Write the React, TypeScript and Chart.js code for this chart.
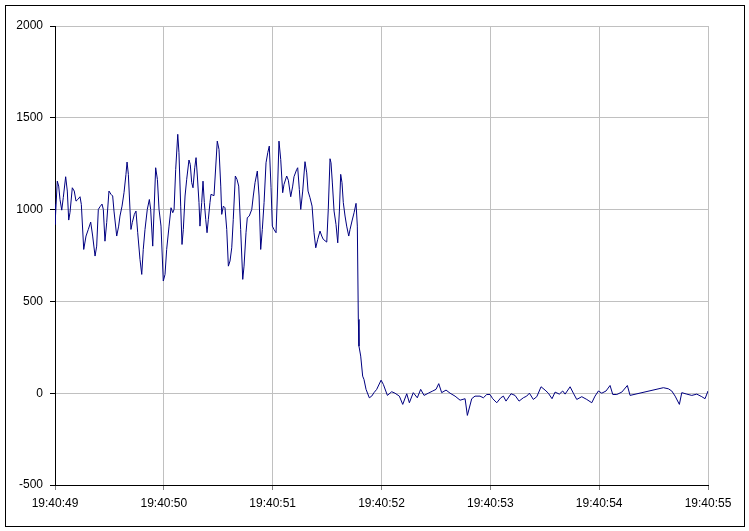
import React, { useEffect, useRef } from "react";
import { Chart, registerables } from "chart.js";

Chart.register(...registerables);

// milliseconds after 19:40:49
const timesMs: number[] = [
  0, 3, 6, 21, 34, 46, 62, 76, 98, 113, 126, 138, 159, 177, 193, 209, 230, 242, 264, 285,
  306, 328, 346, 368, 383, 398, 414, 432, 444, 459, 475, 496, 515, 530, 542, 567, 585, 597, 616, 634,
  652, 662, 674, 689, 698, 710, 729, 744, 760, 781, 797, 811, 827, 848, 867, 879, 898, 925, 941, 956,
  974, 995, 1011, 1026, 1048, 1066, 1082, 1094, 1109, 1128, 1139, 1155, 1167, 1179, 1195, 1210, 1231, 1243, 1256, 1268,
  1284, 1296, 1308, 1323, 1332, 1348, 1360, 1372, 1385, 1397, 1409, 1424, 1433, 1461, 1491, 1507, 1523, 1532, 1547, 1562,
  1578, 1593, 1608, 1624, 1638, 1657, 1672, 1688, 1706, 1725, 1737, 1755, 1767, 1785, 1808, 1822, 1838, 1859, 1875, 1890,
  1905, 1921, 1939, 1955, 1969, 1985, 1997, 2012, 2031, 2043, 2058, 2074, 2092, 2104, 2129, 2144, 2166, 2184, 2196, 2221,
  2230, 2245, 2258, 2276, 2297, 2313, 2325, 2343, 2362, 2380, 2396, 2414, 2435, 2451, 2465, 2497, 2511, 2527, 2536, 2548,
  2564, 2582, 2598, 2613, 2625, 2637, 2649, 2665, 2680, 2699, 2711, 2729, 2748, 2766, 2778, 2787, 2793, 2809, 2827, 2839,
  2858, 2888, 2910, 2931, 2956, 2996, 3017, 3054, 3094, 3124, 3164, 3195, 3232, 3256, 3292, 3329, 3360, 3391, 3430, 3471,
  3501, 3526, 3553, 3593, 3630, 3676, 3722, 3768, 3789, 3829, 3859, 3905, 3936, 3967, 3997, 4022, 4059, 4096, 4120, 4144,
  4190, 4227, 4264, 4303, 4334, 4359, 4395, 4427, 4466, 4503, 4533, 4567, 4595, 4634, 4665, 4687, 4733, 4763, 4794, 4840,
  4886, 4932, 4962, 4993, 5024, 5063, 5100, 5125, 5162, 5208, 5259, 5284, 5590, 5636, 5667, 5698, 5737, 5759, 5805, 5851,
  5897, 5943, 5973, 6000,
];

const values: number[] = [
  919, 1028, 965, 1155, 1128, 1055, 997, 1065, 1179, 1101, 943, 985, 1119, 1101, 1046, 1055, 1070, 1028, 783, 856,
  892, 932, 856, 747, 801, 1001, 1016, 1030, 1001, 828, 929, 1101, 1083, 1074, 992, 856, 910, 965, 1019, 1092,
  1192, 1259, 1192, 1001, 892, 929, 974, 992, 874, 729, 647, 783, 892, 1001, 1055, 1001, 801, 1228, 1164, 1001,
  910, 611, 647, 783, 910, 1010, 983, 1001, 1219, 1410, 1310, 1019, 810, 892, 1074, 1165, 1270, 1246, 1147, 1119,
  1228, 1283, 1183, 1038, 910, 1038, 1155, 1038, 947, 874, 947, 1038, 1083, 1076, 1373, 1328, 1128, 974, 1019, 1010,
  892, 692, 720, 792, 947, 1183, 1165, 1128, 892, 620, 692, 874, 956, 965, 1001, 1074, 1147, 1210, 1074, 783,
  892, 1038, 1255, 1310, 1346, 1119, 910, 892, 874, 1074, 1373, 1273, 1092, 1137, 1183, 1160, 1070, 1128, 1179, 1219,
  1228, 1110, 1001, 1101, 1261, 1200, 1101, 1065, 1019, 874, 792, 838, 883, 856, 838, 823, 1001, 1277, 1255, 1150,
  992, 919, 819, 992, 1192, 1147, 1038, 965, 910, 856, 892, 938, 983, 1034, 910, 402, 256, 202, 93, 75,
  21, -25, -16, 3, 21, 71, 48, -12, 8, 0, -16, -61, -3, -52, 3, -25, 21, -12, 0, 12,
  21, 52, 3, 17, 0, -16, -38, -30, -121, -30, -16, -16, -25, -7, -7, -30, -52, -25, -16, -43,
  -3, -12, -43, -25, -16, 0, -34, -19, 35, 17, 0, -30, 6, -5, 12, -5, 35, 0, -34, -19,
  -34, -52, -16, 12, 0, 12, 42, -7, -7, 6, 42, -12, 30, 24, 12, -16, -61, 3, -5, -12,
  -5, -19, -30, 12,
];

const xTickLabels: string[] = [
  "19:40:49", "19:40:50", "19:40:51", "19:40:52", "19:40:53", "19:40:54", "19:40:55",
];

const yMin = -500;
const yMax = 2000;
const yStep = 500;

const FONT = "Arial, 'Liberation Sans', sans-serif";

export default function App() {
  const ref = useRef<HTMLCanvasElement | null>(null);

  useEffect(() => {
    if (!ref.current) return;
    const borderPlugin = {
      id: "outerBorder",
      afterDraw(chart: any) {
        const ctx = chart.ctx;
        ctx.save();
        ctx.strokeStyle = "#000";
        ctx.lineWidth = 1;
        ctx.strokeRect(5.5, 5.5, 739, 521);
        ctx.restore();
      },
      beforeDraw(chart: any) {
        const ctx = chart.ctx;
        ctx.save();
        ctx.fillStyle = "#fff";
        ctx.fillRect(0, 0, chart.width, chart.height);
        ctx.restore();
      },
    };
    const chart = new Chart(ref.current, {
      type: "line",
      data: {
        datasets: [
          {
            data: timesMs.map((t, i) => ({ x: t, y: values[i] })),
            borderColor: "#000080",
            borderWidth: 1,
            pointRadius: 0,
            tension: 0,
            fill: false,
          },
        ],
      },
      options: {
        responsive: false,
        animation: false,
        layout: { padding: { left: 0, top: 26, right: 41, bottom: 0 } },
        plugins: { legend: { display: false }, tooltip: { enabled: false } },
        scales: {
          x: {
            type: "linear",
            min: 0,
            max: (xTickLabels.length - 1) * 1000,
            afterFit: (s: any) => {
              s.height = 46;
            },
            afterBuildTicks: (s: any) => {
              s.ticks = xTickLabels.map((_, i) => ({ value: i * 1000 }));
            },
            ticks: {
              autoSkip: false,
              maxRotation: 0,
              padding: 6,
              color: "#000",
              font: { family: FONT, size: 12 },
              callback: (_v: any, i: number) => xTickLabels[i],
            },
            grid: { color: "#c0c0c0", tickColor: "#808080", tickLength: 5, lineWidth: 1 },
            border: { color: "#000", width: 1 },
          },
          y: {
            min: yMin,
            max: yMax,
            afterFit: (s: any) => {
              s.width = 55;
            },
            ticks: {
              stepSize: yStep,
              padding: 7,
              color: "#000",
              font: { family: FONT, size: 12 },
              callback: (v: any) => String(v),
            },
            grid: { color: "#c0c0c0", tickColor: "#000", tickLength: 5, lineWidth: 1 },
            border: { color: "#000", width: 1 },
          },
        },
      },
      plugins: [borderPlugin],
    } as any);
    return () => chart.destroy();
  }, []);

  return (
    <div style={{ position: "absolute", left: 0, top: 0, width: 749, height: 531 }}>
      <canvas ref={ref} width={749} height={531} style={{ display: "block" }} />
    </div>
  );
}
